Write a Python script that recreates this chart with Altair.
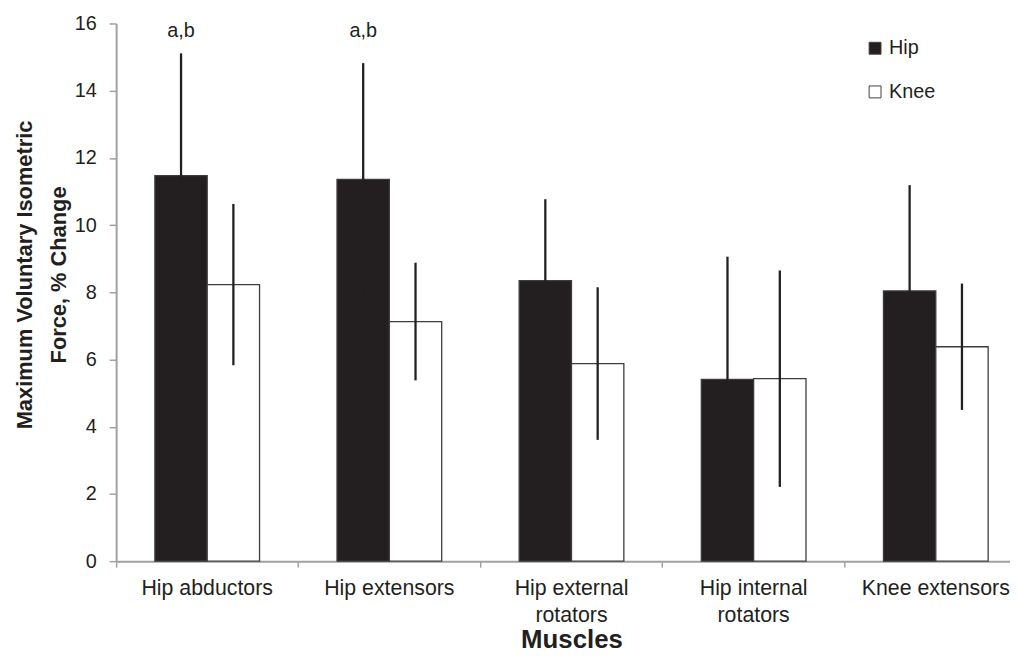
import altair as alt
import pandas as pd

muscles = ["Hip abductors", "Hip extensors", "Hip external rotators",
           "Hip internal rotators", "Knee extensors"]
muscle_labels = ["Hip abductors", "Hip extensors", "Hip external\nrotators",
                 "Hip internal\nrotators", "Knee extensors"]
groups = ["Hip", "Knee"]
hip_mean = [11.47, 11.36, 8.35, 5.41, 8.04]
hip_sd = [3.64, 3.46, 2.42, 3.65, 3.15]
knee_mean = [8.23, 7.13, 5.88, 5.43, 6.38]
knee_sd = [2.40, 1.75, 2.27, 3.22, 1.88]
annot_muscles = ["Hip abductors", "Hip extensors"]
annot_text = ["a,b", "a,b"]
annot_y = [15.6, 15.6]

rows = []
for m, v, s in zip(muscles, hip_mean, hip_sd):
    rows.append({"muscle": m, "group": "Hip", "value": v, "lo": v - s, "hi": v + s})
for m, v, s in zip(muscles, knee_mean, knee_sd):
    rows.append({"muscle": m, "group": "Knee", "value": v, "lo": v - s, "hi": v + s})
df = pd.DataFrame(rows)
ann = pd.DataFrame({"muscle": annot_muscles, "group": ["Hip"] * len(annot_muscles),
                    "label": annot_text, "ypos": annot_y})
lab = pd.DataFrame({"muscle": muscles, "label": muscle_labels, "base": [0] * len(muscles)})

TXT = "#231f20"
AX = "#a0a0a0"

x_enc = alt.X(
    "muscle:N", sort=muscles,
    scale=alt.Scale(range=[0, 918], paddingInner=0, paddingOuter=0),
    axis=alt.Axis(
        title="Muscles", labels=False, bandPosition=0,
        domainColor=AX, domainWidth=2, tickColor=AX, tickWidth=1.5, tickSize=6,
        titleFontSize=26, titleFontWeight="bold", titleColor=TXT, titlePadding=59,
    ),
)
xo_enc = alt.XOffset("group:N", sort=groups,
                     scale=alt.Scale(paddingInner=0, paddingOuter=0.74))
y_scale = alt.Scale(domain=[0, 16], nice=False)

bars = alt.Chart(df).mark_bar(stroke="#3d3d3d", strokeWidth=1.3).encode(
    x=x_enc,
    xOffset=xo_enc,
    y=alt.Y("value:Q", scale=y_scale, axis=alt.Axis(
        title=["Maximum Voluntary Isometric", "Force, % Change"],
        values=[0, 2, 4, 6, 8, 10, 12, 14, 16], grid=False,
        domainColor=AX, domainWidth=2, tickColor=AX, tickWidth=1.5, tickSize=7,
        labelFontSize=20, labelColor=TXT, labelPadding=13,
        titleFontSize=22, titleFontWeight="bold", titleColor=TXT,
        titleLineHeight=34, titleY=253,
    )),
    fill=alt.Fill("group:N", sort=groups,
                  scale=alt.Scale(domain=groups, range=["#231f20", "#ffffff"]),
                  legend=alt.Legend(
                      title=None, orient="none", legendX=755, legendY=15,
                      symbolType="square", symbolSize=144, symbolStrokeColor="#404040",
                      symbolStrokeWidth=1, labelFontSize=20, labelColor=TXT,
                      labelOffset=4, rowPadding=24)),
)

rules = alt.Chart(df).mark_rule(color="#231f20", strokeWidth=2.3).encode(
    x=alt.X("muscle:N", sort=muscles),
    xOffset=alt.XOffset("group:N", sort=groups),
    y=alt.Y("lo:Q", scale=y_scale),
    y2="hi:Q",
)

texts = alt.Chart(ann).mark_text(fontSize=20, color=TXT, baseline="alphabetic").encode(
    x=alt.X("muscle:N", sort=muscles),
    xOffset=alt.XOffset("group:N", sort=groups),
    y=alt.Y("ypos:Q", scale=y_scale),
    text="label:N",
)

xlabels = alt.Chart(lab).mark_text(
    fontSize=21.5, color=TXT, baseline="top", align="center",
    lineBreak="\n", lineHeight=27, dy=17,
).encode(
    x=alt.X("muscle:N", sort=muscles),
    y=alt.Y("base:Q", scale=y_scale),
    text="label:N",
)

chart = alt.layer(bars, rules, texts, xlabels).properties(
    width=901, height=542,
    padding={"left": 109, "top": 13, "right": 0, "bottom": 92},
    autosize="none",
).configure(font="Liberation Sans").configure_view(stroke=None)

chart.save("out.html", embed_options={"renderer": "svg", "actions": False})
